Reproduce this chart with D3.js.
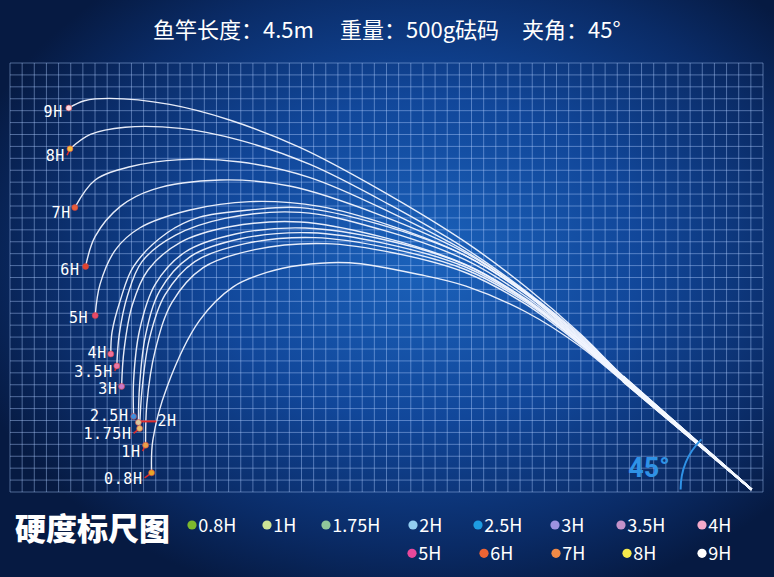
<!DOCTYPE html>
<html><head><meta charset="utf-8">
<script src="https://cdn.jsdelivr.net/npm/d3@7"></script>
<style>html,body{margin:0;padding:0;background:#08204c;} svg{display:block}</style>
</head><body>
<svg id="c" width="774" height="577"></svg>
<script>
// ---------- data ----------
const grades = ["0.8H","1H","1.75H","2H","2.5H","3H","3.5H","4H","5H","6H","7H","8H","9H"];
const legendColors = ["#7db82e","#cde596","#8fc79b","#92cdf0","#1e9ce2","#9d92e0","#c492c9","#f4a9c9","#e8489b","#ee6433","#f08a47","#f6ea4c","#ffffff"];
const tipColors = ["#e8a628","#e8a048","#e8c070","#d8c8a0","#3a8fe0","#c878c8","#e878a8","#f0709a","#e84a6a","#e0452f","#e8603a","#f5c040","#f8d8e4"];
// rod profiles: [horizontal cm from grid left, height cm above grid bottom], tip -> butt
const rod08 = [[118,16],[119,43],[131,88],[158,143],[186,171],[214,183],[242,189],[283,191],[342,181],[380,171.5],[430,150],[475,121.5],[511,92],[558,52.5],[618,2]];
const rod1 = [[113,39],[114,73],[121,118],[135,158],[161,187],[204,202],[263,207],[321,199],[380,182.7],[430,156.3],[475,123],[511,92.5],[558,52.8],[618,2]];
const rod175 = [[108,53],[110,85],[116,127],[129,164],[154,192],[196,207],[254,212],[317,203],[380,185.2],[430,158.1],[475,124],[511,92.9],[558,53],[618,2]];
const rod2 = [[107,58],[108,89],[113,131],[125,168],[150,196],[192,211],[250,216],[313,207],[380,187.3],[430,159.3],[475,124.5],[511,93.3],[558,53.2],[618,2]];
const rod25 = [[103,63],[103,93],[108,135],[121,173],[146,200],[188,215],[246,220],[313,210],[380,189],[430,160],[475,125],[511,93.6],[558,53.4],[618,2]];
const rod3 = [[93,88],[95,118],[102,156],[115,185],[142,208],[183,221],[242,225],[308,213],[380,189.4],[430,160.7],[475,126],[511,94],[558,53.6],[618,2]];
const rod35 = [[89,105],[91,131],[98,164],[110,192],[138,214],[179,228],[242,233],[308,219],[380,193.2],[430,162.7],[475,126.5],[511,94.3],[558,53.8],[618,2]];
const rod4 = [[84,115],[85,133],[92,160],[103,188],[131,216],[158,229],[200,235],[242,237],[308,223],[380,196.6],[430,164.9],[475,127],[511,94.6],[558,54],[618,2]];
const rod5 = [[71,147],[75,173],[88,202],[108,220],[150,235],[200,242],[258,238],[317,222],[380,196.8],[430,165.2],[475,128],[511,95],[558,54.2],[618,2]];
const rod6 = [[63,188],[71,213],[92,238],[119,252],[175,260],[233,255],[308,231],[380,199],[430,166.2],[475,129],[511,95.3],[558,54.4],[618,2]];
const rod7 = [[54,237],[71,260],[100,271],[142,277],[192,275],[250,262],[317,233],[380,200.3],[430,166.5],[475,130],[511,95.7],[558,54.6],[618,2]];
const rod8 = [[50,286],[67,298],[96,304],[142,303],[192,293],[250,273],[317,239],[380,202.5],[430,167.3],[475,131],[511,96.1],[558,54.8],[618,2]];
const rod9 = [[49,320],[62,326],[83,328],[133,323],[183,310],[242,287],[308,252],[380,208],[430,170.8],[475,132],[511,96.5],[558,55],[618,2]];
const rodShapes = [rod08,rod1,rod175,rod2,rod25,rod3,rod35,rod4,rod5,rod6,rod7,rod8,rod9];
const titleParts = ["鱼竿长度：4.5m","重量：500g砝码","夹角：45°"];
const chartName = "硬度标尺图";
const rodAngle = 45;

// ---------- layout (not data) ----------
const W = 774, H = 577;
const labelNudge = [[-9,11],[-5,12],[-8,11],[19,4],[-5,5],[-4,8],[-4,11],[-4,4],[-7,7],[-6,9],[-4,10],[-5,12.5],[-6,8.5]];
const legendPos = [[192,0],[267,0],[326,0],[413,0],[478,0],[555,0],[621,0],[702,0],[412,1],[484,1],[556,1],[627,1],[702,1]];
const titleX = [153,340,522];

const svg = d3.select("#c");
const defs = svg.append("defs");
const g1 = defs.append("radialGradient").attr("id","bg").attr("cx","55%").attr("cy","45%").attr("r","62%");
g1.append("stop").attr("offset","0%").attr("stop-color","#1b62bb");
g1.append("stop").attr("offset","45%").attr("stop-color","#11479a");
g1.append("stop").attr("offset","80%").attr("stop-color","#0a2b66");
g1.append("stop").attr("offset","100%").attr("stop-color","#061a42");
svg.append("rect").attr("width",W).attr("height",H).attr("fill","url(#bg)");

const x = d3.scaleLinear().domain([0,627.5]).range([10,763]);
const y = d3.scaleLinear().domain([0,357.5]).range([492,63]);
const gx = d3.scaleLinear().domain([0,62]).range([10,763]);
const gy = d3.scaleLinear().domain([0,36]).range([492,63]);

// grid
const grid = svg.append("g").attr("stroke","rgba(175,205,255,0.44)").attr("stroke-width",1);
grid.selectAll("line.v").data(d3.range(0,63)).join("line").attr("class","v")
  .attr("x1",d=>gx(d)).attr("x2",d=>gx(d)).attr("y1",gy(0)).attr("y2",gy(36));
grid.selectAll("line.h").data(d3.range(0,37)).join("line").attr("class","h")
  .attr("y1",d=>gy(d)).attr("y2",d=>gy(d)).attr("x1",gx(0)).attr("x2",gx(62));

// title
svg.append("g").selectAll("text").data(titleParts).join("text")
  .attr("x",(d,i)=>titleX[i]).attr("y",38)
  .attr("fill","#ffffff").attr("font-family","'Noto Sans CJK SC'").attr("font-size",22)
  .text(d=>d);

// rods
const line = d3.line().x(d=>x(d[0])).y(d=>y(d[1])).curve(d3.curveCatmullRom.alpha(0.5));
const rods = svg.append("g");
rods.selectAll("path.rod").data(rodShapes.slice().reverse()).join("path").attr("class","rod")
  .attr("d",line).attr("fill","none").attr("stroke","#f2f6ff").attr("stroke-width",1.4).attr("stroke-opacity",0.95);
// thicker butt section
rods.selectAll("path.butt").data(rodShapes).join("path").attr("class","butt")
  .attr("d",d=>line(d.slice(-3))).attr("fill","none").attr("stroke","#f4f8ff").attr("stroke-width",2);

// angle arc
const butt = rod9[rod9.length-1];
const cx = x(butt[0]), cy = y(butt[1]);
const ap = d3.path();
ap.arc(cx, cy, 71, Math.PI, Math.PI + rodAngle*Math.PI/180);
svg.append("path").attr("d",ap.toString()).attr("fill","none").attr("stroke","#2f92e6").attr("stroke-width",2);
svg.append("text").attr("x",649).attr("y",477).attr("text-anchor","middle")
  .attr("fill","#2f92e6").attr("font-family","'Liberation Sans Narrow', Roboto, sans-serif").attr("font-weight","bold").attr("font-size",27)
  .text(rodAngle+"°");

// tips, leaders, labels
const tips = svg.append("g");
rodShapes.forEach((r,i)=>{
  const px = x(r[0][0]), py = y(r[0][1]);
  const nd = labelNudge[i];
  if (nd[0] > 0) {
    tips.append("line").attr("x1",px).attr("y1",py-1).attr("x2",px+nd[0]-1).attr("y2",py-1).attr("stroke","#e02a2a").attr("stroke-width",2);
  } else if (nd[1] >= 10.5) {
    tips.append("line").attr("x1",px).attr("y1",py).attr("x2",px+nd[0]+2).attr("y2",py+nd[1]-6).attr("stroke","#e02a2a").attr("stroke-width",1.5);
  }
  tips.append("circle").attr("cx",px).attr("cy",py).attr("r",3).attr("fill",tipColors[i]).attr("stroke","#d04040").attr("stroke-width",0.6);
  tips.append("text").attr("x",px+nd[0]).attr("y",py+nd[1])
    .attr("text-anchor", nd[0] > 0 ? "start" : "end")
    .attr("fill","#ffffff").attr("font-family","'DejaVu Sans Mono', monospace").attr("font-size",15).attr("letter-spacing",0.6)
    .text(grades[i]);
});

// chart name
svg.append("text").attr("x",15).attr("y",540).attr("fill","#ffffff")
  .attr("font-family","'Noto Sans CJK SC'").attr("font-weight",900).attr("font-size",31).text(chartName);

// legend
const lg = svg.append("g");
grades.forEach((gname,i)=>{
  const [lx,row] = legendPos[i];
  const ly = row ? 553.3 : 525;
  lg.append("circle").attr("cx",lx).attr("cy",ly).attr("r",4.6).attr("fill",legendColors[i]);
  lg.append("text").attr("x",lx+6.3).attr("y",ly+6.6).attr("fill","#ffffff")
    .attr("font-family","'Noto Sans CJK SC', 'Noto Sans'").attr("font-size",18).text(gname);
});
</script>
</body></html>
